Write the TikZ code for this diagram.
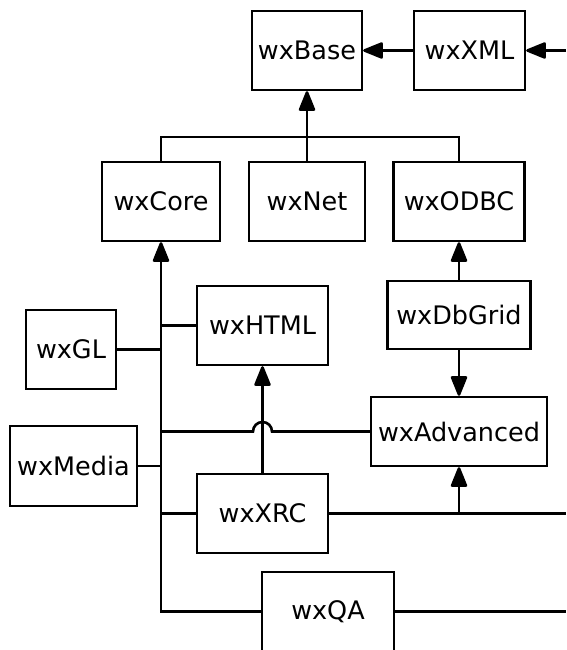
\documentclass[tikz,border=0pt]{standalone}
\usepackage{fontspec}
\setmainfont{DejaVu Sans}
\usetikzlibrary{arrows.meta}
\begin{document}
\begin{tikzpicture}[x=1pt,y=1pt,
  lib/.style={draw, line width=2.4pt, inner sep=0pt, align=center,
    font=\fontsize{25.5}{30}\selectfont},
  wire/.style={line width=2.6pt},
  arr/.style={wire, -{Triangle[length=22pt,width=17pt,round=false]}}]
\useasboundingbox (0,0) rectangle (566,650);
% library boxes
\node[lib, minimum width=110pt, minimum height=79pt] (base)   at (307,599.5) {wxBase};
\node[lib, minimum width=111pt, minimum height=79pt] (xml)    at (469.5,599.5) {wxXML};
\node[lib, minimum width=118pt, minimum height=79pt] (core)   at (161,448.5) {wxCore};
\node[lib, minimum width=116pt, minimum height=79pt] (net)    at (307,448.5) {wxNet};
\node[lib, minimum width=131pt, minimum height=79pt] (odbc)   at (459,448.5) {wxODBC};
\node[lib, minimum width=131pt, minimum height=79pt] (html)   at (262.5,324.5) {wxHTML};
\node[lib, minimum width=90pt,  minimum height=79pt] (gl)     at (71,300.5) {wxGL};
\node[lib, minimum width=143pt, minimum height=68pt] (dbgrid) at (459,335) {wxDbGrid};
\node[lib, minimum width=127pt, minimum height=80pt] (media)  at (73.5,184) {wxMedia};
\node[lib, minimum width=176pt, minimum height=69pt] (adv)    at (459,218.5) {wxAdvanced};
\node[lib, minimum width=131pt, minimum height=79pt] (xrc)    at (262.5,136.5) {wxXRC};
\node[lib, minimum width=132pt, minimum height=79pt] (qa)     at (328,38.5) {wxQA};
% free ends at the right margin
\coordinate (xmlin) at (566,599.5);
\coordinate (xrcout) at (566,136.5);
\coordinate (qaout) at (566,38.5);
\coordinate (busL) at (161,513);
\coordinate (busR) at (459,513);
% top row
\draw[arr] (xmlin) -- (xml.east);
\draw[arr] (xml.west) -- (base.east);
\draw[wire] (core.north) -- (busL) -- (busR) -- (odbc.north);
\draw[arr] (net.north) -- (base.south);
% database branch
\draw[arr] (dbgrid.north) -- (odbc.south);
\draw[arr] (dbgrid.south) -- (adv.north);
% main trunk into wxCore
\draw[arr] (qa.west) -| (core.south);
\draw[wire] (html.west) -- (html.west -| core.south);
\draw[wire] (gl.east) -- (gl.east -| core.south);
\draw[wire] (media.east) -- (media.east -| core.south);
\draw[wire] (xrc.west) -- (xrc.west -| core.south);
% wxAdvanced link hopping over the wxHTML line
\draw[wire] (adv.west -| core.south) -- ([xshift=-9.5pt]adv.west -| html.south)
  arc[start angle=180, end angle=0, radius=9.5pt] -- (adv.west);
\draw[arr] (xrc.north) -- (html.south);
% right-hand links
\draw[wire] (xrc.east) -- (xrcout);
\draw[arr] (xrc.east -| adv.south) -- (adv.south);
\draw[wire] (qa.east) -- (qaout);
\end{tikzpicture}
\end{document}
